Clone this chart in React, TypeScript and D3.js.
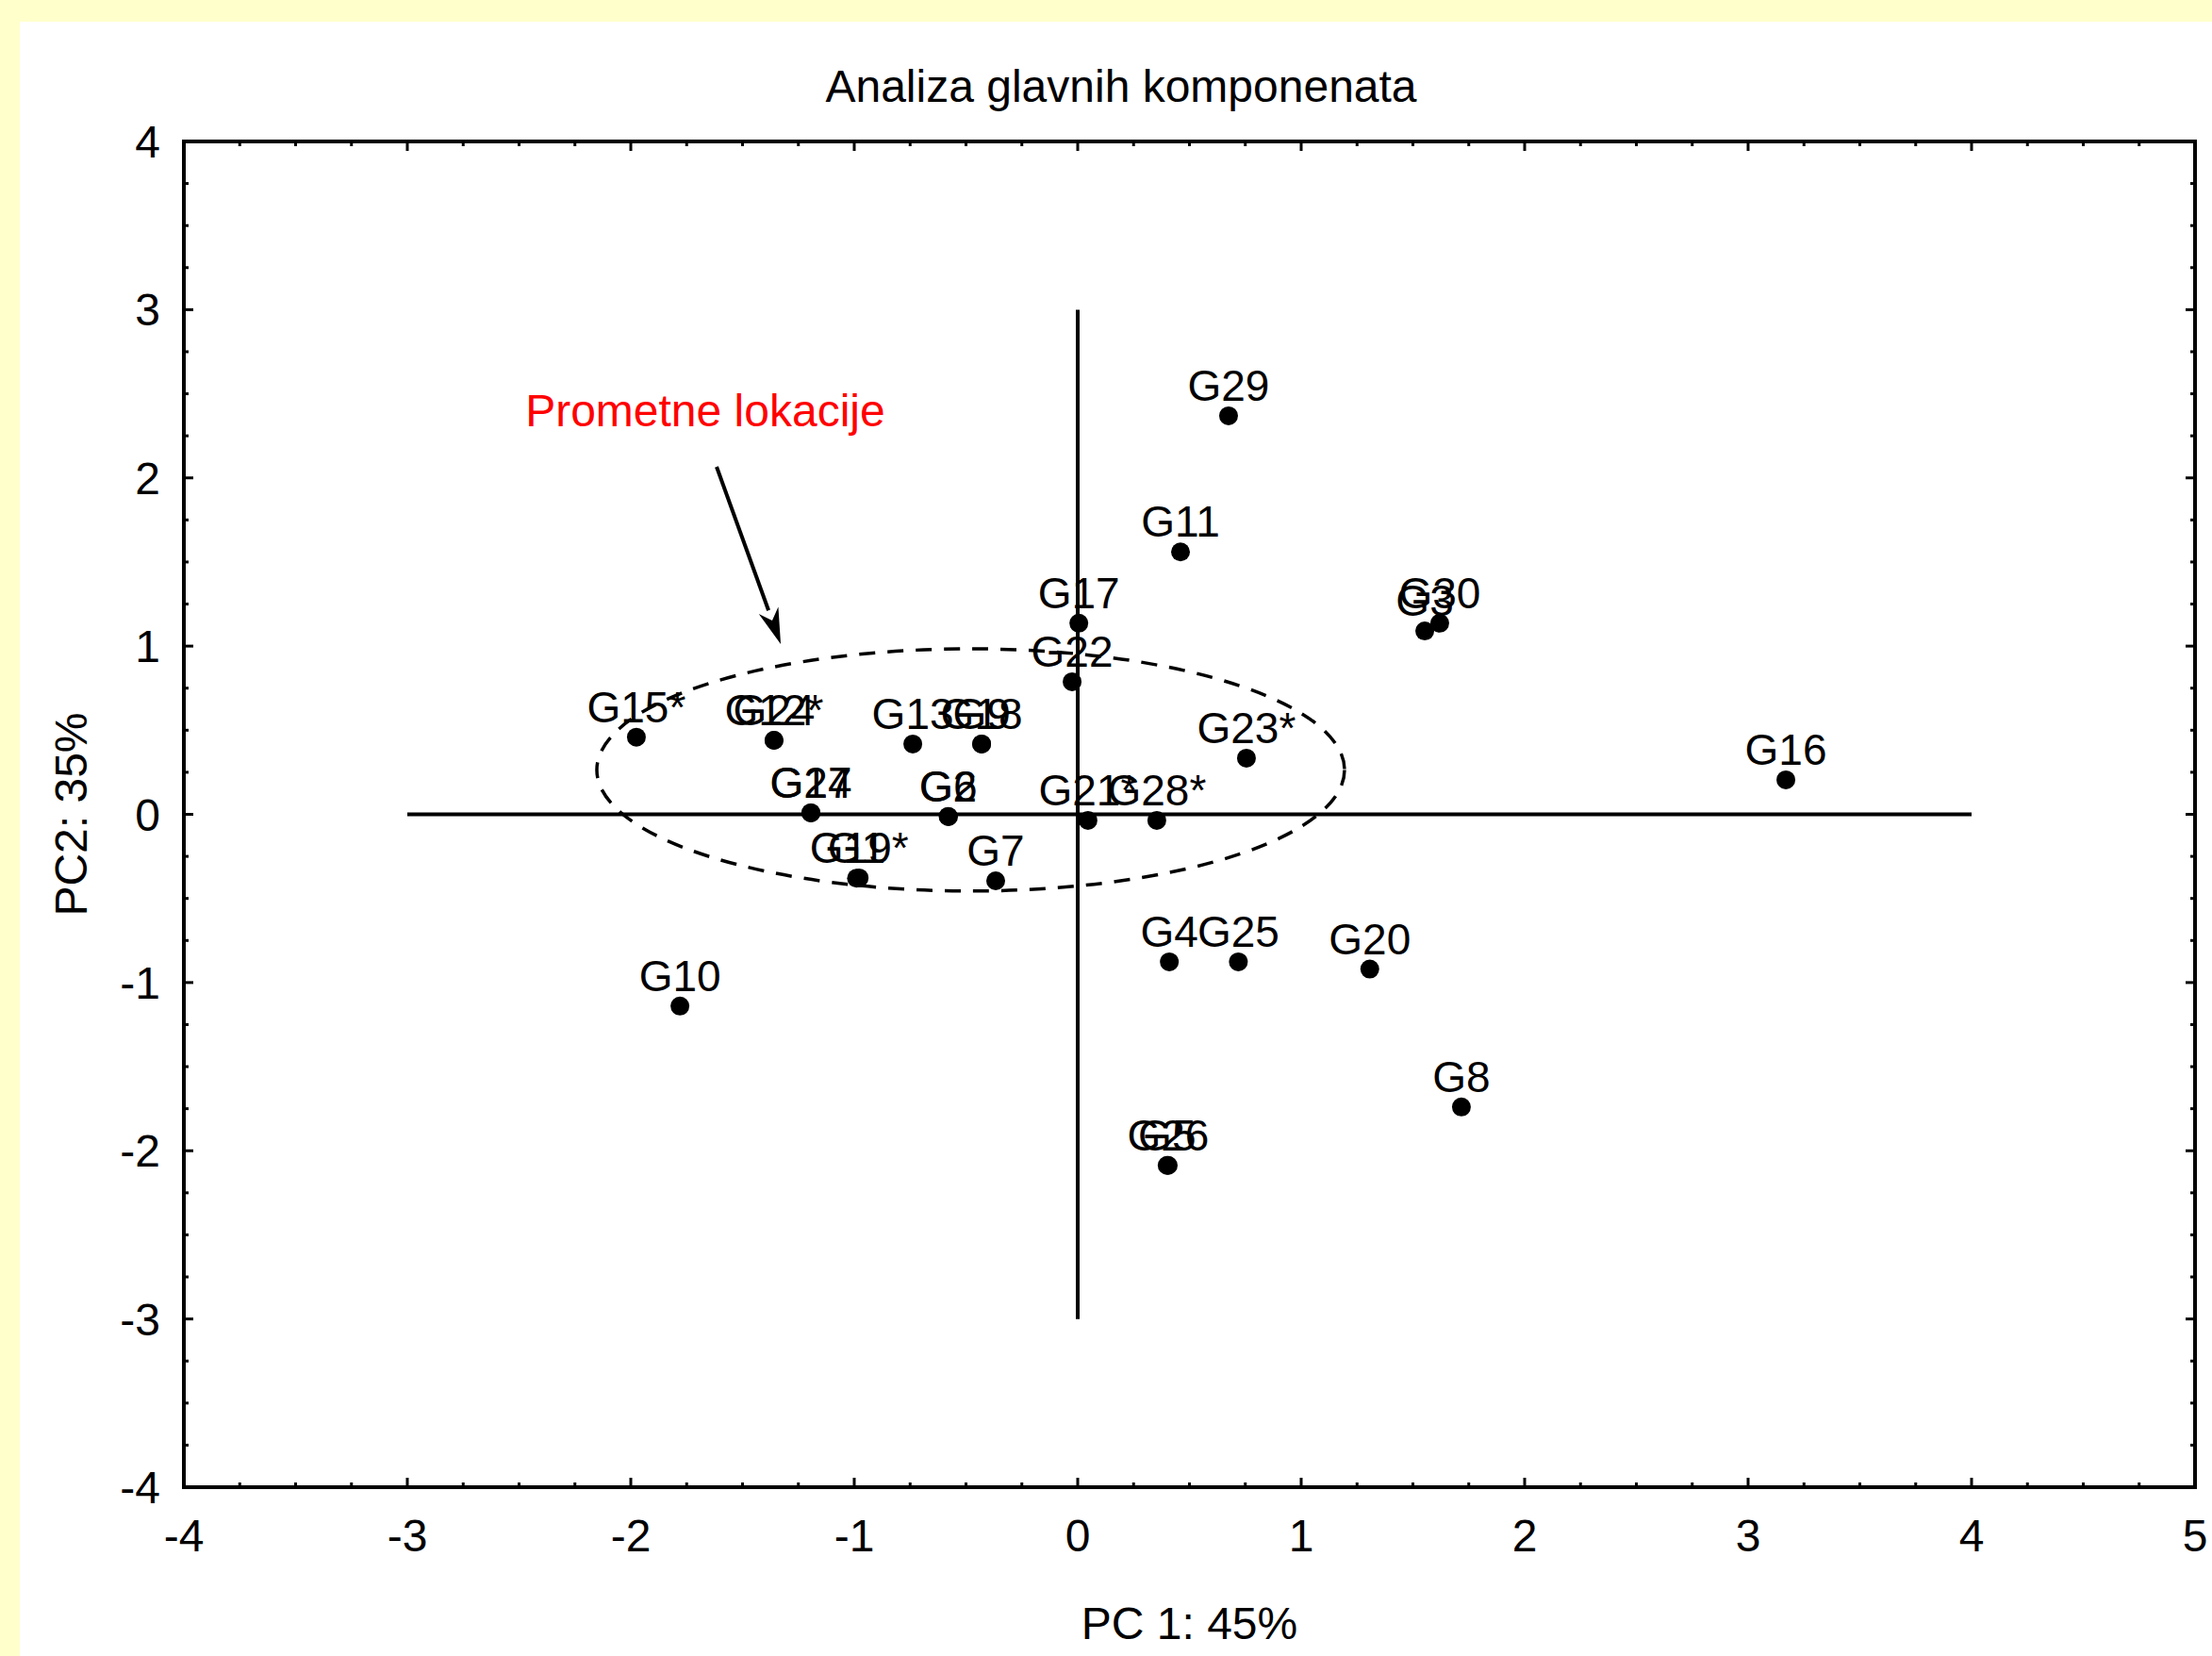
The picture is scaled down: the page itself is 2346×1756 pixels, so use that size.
import * as d3 from "d3";
import React from "react";

// PCA scores
const names = [
  "G1", "G2", "G3", "G4", "G5", "G6", "G7", "G8", "G9", "G10",
  "G11", "G12*", "G13", "G14", "G15*", "G16", "G17", "G18", "G19*", "G20",
  "G21*", "G22", "G23*", "G24", "G25", "G26", "G27", "G28*", "G29", "G30",
];
const pc1 = [
  -0.99, -0.58, 1.553, 0.41, 0.4, -0.578, -0.367, 1.717, -0.43, -1.78,
  0.46, -1.359, -0.738, -1.194, -1.975, 3.169, 0.005, -0.43, -0.978, 1.307,
  0.046, -0.025, 0.755, -1.359, 0.719, 0.405, -1.194, 0.354, 0.675, 1.62,
];
const pc2 = [
  -0.38, -0.012, 1.09, -0.877, -2.087, -0.014, -0.395, -1.74, 0.418, -1.14,
  1.56, 0.44, 0.418, 0.009, 0.459, 0.205, 1.136, 0.418, -0.378, -0.92,
  -0.036, 0.788, 0.334, 0.44, -0.877, -2.087, 0.009, -0.036, 2.369, 1.136,
];

const xTicks = [-4, -3, -2, -1, 0, 1, 2, 3, 4, 5];
const yTicks = [-4, -3, -2, -1, 0, 1, 2, 3, 4];

// annotation (data units)
const ellipse = { cx: -0.479, cy: 0.264, rx: 1.673, ry: 0.72 };
const arrowFrom = [-1.616, 2.066];
const arrowTo = [-1.329, 1.012];
const noteAt = [-1.667, 2.307];
const noteText = "Prometne lokacije";

const W = 2346;
const H = 1756;
const margin = { top: 150, right: 18, bottom: 179, left: 195 };
const font = "'Liberation Sans', Arial, sans-serif";
const lw = 4;

const App: React.FC = () => {
  const x = d3
    .scaleLinear()
    .domain([-4, 5])
    .range([margin.left, W - margin.right]);
  const y = d3
    .scaleLinear()
    .domain([-4, 4])
    .range([H - margin.bottom, margin.top]);

  const x0 = x(-4);
  const x1 = x(5);
  const y0 = y(-4);
  const y1 = y(4);

  const minorX = d3.range(-4, 5.001, 0.25).filter((v) => !xTicks.includes(v));
  const minorY = d3.range(-4, 4.001, 0.25).filter((v) => !yTicks.includes(v));

  // arrow head
  const ax1 = x(arrowFrom[0]);
  const ay1 = y(arrowFrom[1]);
  const ax2 = x(arrowTo[0]);
  const ay2 = y(arrowTo[1]);
  const ang = Math.atan2(ay2 - ay1, ax2 - ax1);
  const hl = 38;
  const hw = 11;
  const bx = ax2 - hl * Math.cos(ang);
  const by = ay2 - hl * Math.sin(ang);
  const head = [
    [ax2, ay2],
    [bx + hw * Math.sin(ang), by - hw * Math.cos(ang)],
    [ax2 - hl * 0.7 * Math.cos(ang), ay2 - hl * 0.7 * Math.sin(ang)],
    [bx - hw * Math.sin(ang), by + hw * Math.cos(ang)],
  ];

  return (
    <svg
      width={W}
      height={H}
      style={{ position: "absolute", left: 0, top: 0, display: "block" }}
      fontFamily={font}
    >
      <rect x={0} y={0} width={W} height={H} fill="#ffffcc" />
      <rect x={21} y={23} width={W - 21} height={H - 23} fill="#ffffff" />

      <text x={1189} y={108} textAnchor="middle" fontSize={48}>
        Analiza glavnih komponenata
      </text>

      {/* centre lines */}
      <line x1={x(-3)} x2={x(4)} y1={y(0)} y2={y(0)} stroke="#000" strokeWidth={lw} />
      <line x1={x(0)} x2={x(0)} y1={y(-3)} y2={y(3)} stroke="#000" strokeWidth={lw} />

      {/* dashed ellipse */}
      <ellipse
        cx={x(ellipse.cx)}
        cy={y(ellipse.cy)}
        rx={x(ellipse.rx) - x(0)}
        ry={y(0) - y(ellipse.ry)}
        fill="none"
        stroke="#000"
        strokeWidth={3.5}
        strokeDasharray="17,13"
      />

      {/* frame + ticks */}
      <rect x={x0} y={y1} width={x1 - x0} height={y0 - y1} fill="none" stroke="#000" strokeWidth={lw} />
      {xTicks.map((t) => (
        <g key={"xt" + t}>
          <line x1={x(t)} x2={x(t)} y1={y0} y2={y0 - 10} stroke="#000" strokeWidth={3} />
          <line x1={x(t)} x2={x(t)} y1={y1} y2={y1 + 10} stroke="#000" strokeWidth={3} />
          <text x={x(t)} y={y0 + 68} textAnchor="middle" fontSize={48}>
            {t}
          </text>
        </g>
      ))}
      {minorX.map((t) => (
        <g key={"xm" + t}>
          <line x1={x(t)} x2={x(t)} y1={y0} y2={y0 - 5} stroke="#000" strokeWidth={3} />
          <line x1={x(t)} x2={x(t)} y1={y1} y2={y1 + 5} stroke="#000" strokeWidth={3} />
        </g>
      ))}
      {yTicks.map((t) => (
        <g key={"yt" + t}>
          <line x1={x0} x2={x0 + 10} y1={y(t)} y2={y(t)} stroke="#000" strokeWidth={3} />
          <line x1={x1} x2={x1 - 10} y1={y(t)} y2={y(t)} stroke="#000" strokeWidth={3} />
          <text x={x0 - 25} y={y(t) + 17} textAnchor="end" fontSize={48}>
            {t}
          </text>
        </g>
      ))}
      {minorY.map((t) => (
        <g key={"ym" + t}>
          <line x1={x0} x2={x0 + 5} y1={y(t)} y2={y(t)} stroke="#000" strokeWidth={3} />
          <line x1={x1} x2={x1 - 5} y1={y(t)} y2={y(t)} stroke="#000" strokeWidth={3} />
        </g>
      ))}

      {/* points + labels */}
      {names.map((n, i) => (
        <g key={n}>
          <circle cx={x(pc1[i])} cy={y(pc2[i])} r={10} fill="#000" />
          <text x={x(pc1[i])} y={y(pc2[i]) - 16} textAnchor="middle" fontSize={46}>
            {n}
          </text>
        </g>
      ))}

      {/* annotation */}
      <text x={x(noteAt[0])} y={y(noteAt[1])} textAnchor="middle" fontSize={48} fill="#ff0000">
        {noteText}
      </text>
      <line x1={ax1} y1={ay1} x2={bx} y2={by} stroke="#000" strokeWidth={4} />
      <polygon points={head.map((p) => p.join(",")).join(" ")} fill="#000" />

      {/* axis titles */}
      <text x={(x0 + x1) / 2} y={1738} textAnchor="middle" fontSize={48}>
        PC 1: 45%
      </text>
      <text
        transform={`translate(92, ${(y0 + y1) / 2}) rotate(-90)`}
        textAnchor="middle"
        fontSize={48}
      >
        PC2: 35%
      </text>
    </svg>
  );
};

export default App;
